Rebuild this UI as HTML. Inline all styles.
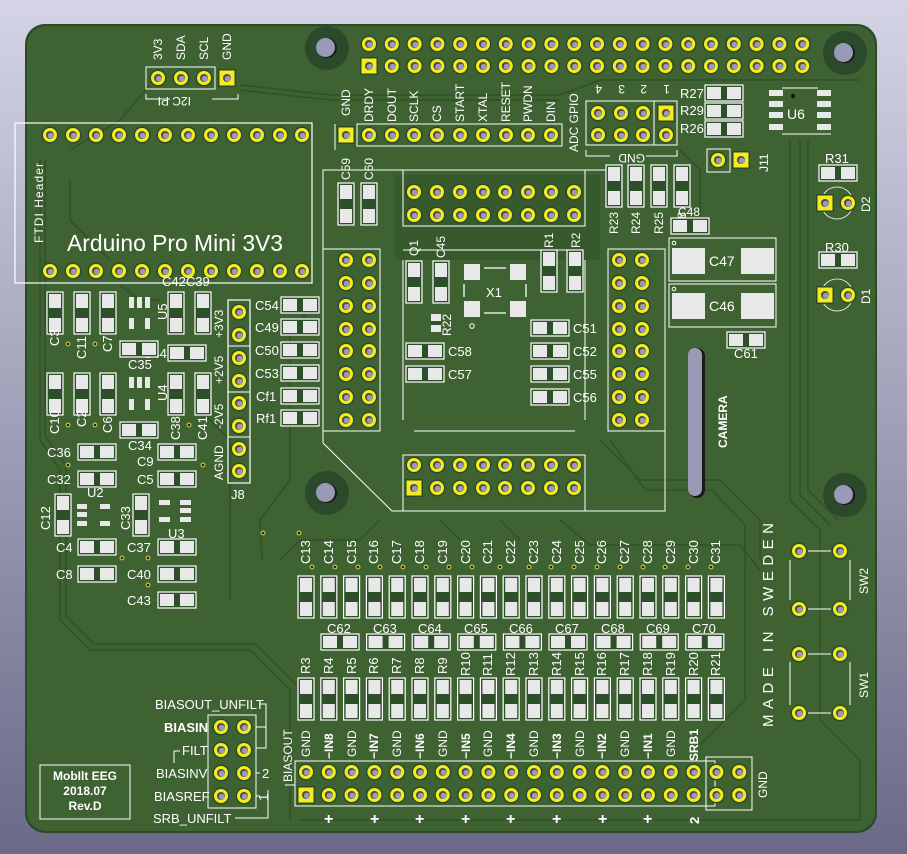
<!DOCTYPE html>
<html><head><meta charset="utf-8"><style>
html,body{margin:0;padding:0;width:907px;height:854px;overflow:hidden}
svg{display:block}
.t{fill:#fff;font-family:"Liberation Sans",sans-serif}
.b{font-weight:bold}
</style></head><body>
<svg width="907" height="854" viewBox="0 0 907 854" xmlns="http://www.w3.org/2000/svg" font-size="12">
<defs>
<linearGradient id="bg" x1="0" y1="0" x2="0" y2="1"><stop offset="0" stop-color="#d4d4e6"/><stop offset="1" stop-color="#6a6a88"/></linearGradient>
<g id="p"><circle r="8.5" fill="#2b4a2a"/><circle r="7" fill="#f4ec1c"/><circle r="4" fill="#4a4a55"/><circle r="3" cx="0.8" cy="0.8" fill="#9a9ab0"/></g>
<g id="s"><rect x="-9" y="-9" width="18" height="18" fill="#2b4a2a"/><rect x="-7.5" y="-7.5" width="15" height="15" fill="#f4ec1c"/><circle r="4" fill="#4a4a55"/><circle r="3" cx="0.8" cy="0.8" fill="#9a9ab0"/></g>
<g id="cv"><rect x="-8" y="-21" width="16" height="42" fill="#2d4f2a" stroke="#fff" stroke-width="1.2"/><rect x="-6" y="-19" width="12" height="14" fill="#e8e8e8"/><rect x="-6" y="5" width="12" height="14" fill="#e8e8e8"/></g>
<g id="ch"><rect x="-19" y="-8" width="38" height="16" fill="#2d4f2a" stroke="#fff" stroke-width="1.2"/><rect x="-17" y="-6" width="14" height="12" fill="#e8e8e8"/><rect x="3" y="-6" width="14" height="12" fill="#e8e8e8"/></g>
<g id="h"><circle r="22" fill="#2b4a2c"/><circle r="10" fill="#1a1a1a"/><circle r="9.5" cx="-1.5" cy="-0.5" fill="#9a9ab6"/></g>
<g id="v"><circle r="2.5" fill="#c8c040"/><circle r="1.3" fill="#222"/></g>
</defs>
<rect width="907" height="854" fill="url(#bg)"/>
<rect x="25" y="24" width="852" height="809" rx="20" fill="#2a4a28"/>
<rect x="27" y="26" width="848" height="805" rx="19" fill="#3f6232"/>
<!-- traces -->
<g fill="none" stroke="#2f5228" stroke-width="1.6">
<polyline points="40,160 40,440 60,470 60,620 90,650 250,650 290,690 290,820"/>
<polyline points="45,160 45,436 66,466 66,616 94,644 256,644 296,684"/>
<polyline points="150,85 120,120 70,150"/>
<polyline points="240,85 330,95 560,95 600,80 860,80"/>
<polyline points="240,90 330,100 560,100"/>
<polyline points="70,180 70,220 110,260"/>
<polyline points="320,300 290,330 290,480 260,520 262,560"/>
<polyline points="600,440 640,480 720,480 760,520 760,560"/>
<polyline points="610,440 645,490 712,490 745,525 745,700 700,745"/>
<polyline points="790,140 790,500 820,530 820,720 860,760 860,820 300,820"/>
<polyline points="800,140 800,495 830,525"/>
<polyline points="808,140 808,490 838,520"/>
<polyline points="380,520 360,540 300,540 280,560"/>
<polyline points="560,520 590,545 740,545 760,570"/>
<polyline points="440,520 460,540"/><polyline points="500,520 520,540"/>
<polyline points="120,285 140,300 160,300"/>
<polyline points="200,410 230,440 230,600"/>
<polyline points="680,150 700,170 700,230"/>
</g>
<path d="M395,175 L600,175 L600,260 L395,260 Z" fill="#2f5228" opacity="0.5"/>
<!-- mounting holes -->
<use href="#h" x="327" y="48"/><use href="#h" x="845" y="53"/><use href="#h" x="327" y="493"/><use href="#h" x="845" y="495"/>

<!-- top header -->
<g>
<use href="#p" x="369" y="44"/><use href="#p" x="391.8" y="44"/><use href="#p" x="414.6" y="44"/><use href="#p" x="437.4" y="44"/><use href="#p" x="460.2" y="44"/><use href="#p" x="483" y="44"/><use href="#p" x="505.8" y="44"/><use href="#p" x="528.6" y="44"/><use href="#p" x="551.4" y="44"/><use href="#p" x="574.2" y="44"/><use href="#p" x="597" y="44"/><use href="#p" x="619.8" y="44"/><use href="#p" x="642.6" y="44"/><use href="#p" x="665.4" y="44"/><use href="#p" x="688.2" y="44"/><use href="#p" x="711" y="44"/><use href="#p" x="733.8" y="44"/><use href="#p" x="756.6" y="44"/><use href="#p" x="779.4" y="44"/><use href="#p" x="802.2" y="44"/>
<use href="#s" x="369" y="66"/><use href="#p" x="391.8" y="66"/><use href="#p" x="414.6" y="66"/><use href="#p" x="437.4" y="66"/><use href="#p" x="460.2" y="66"/><use href="#p" x="483" y="66"/><use href="#p" x="505.8" y="66"/><use href="#p" x="528.6" y="66"/><use href="#p" x="551.4" y="66"/><use href="#p" x="574.2" y="66"/><use href="#p" x="597" y="66"/><use href="#p" x="619.8" y="66"/><use href="#p" x="642.6" y="66"/><use href="#p" x="665.4" y="66"/><use href="#p" x="688.2" y="66"/><use href="#p" x="711" y="66"/><use href="#p" x="733.8" y="66"/><use href="#p" x="756.6" y="66"/><use href="#p" x="779.4" y="66"/><use href="#p" x="802.2" y="66"/>
</g>

<!-- I2C -->
<rect x="146" y="67" width="69" height="22" fill="none" stroke="#fff"/>
<use href="#p" x="158" y="78"/><use href="#p" x="181" y="78"/><use href="#p" x="204" y="78"/><use href="#s" x="227" y="78"/>
<text class="t" transform="translate(162,60) rotate(-90)">3V3</text>
<text class="t" transform="translate(185,60) rotate(-90)">SDA</text>
<text class="t" transform="translate(208,60) rotate(-90)">SCL</text>
<text class="t" transform="translate(231,60) rotate(-90)">GND</text>
<polyline points="146,94 146,99 170,99" fill="none" stroke="#fff"/><polyline points="212,99 238,99 238,94" fill="none" stroke="#fff"/>
<text class="t" transform="translate(191,97) rotate(180)">I2C PI</text>

<!-- Arduino -->
<rect x="15" y="123" width="297" height="160" fill="none" stroke="#fff" stroke-width="1.2"/>
<use href="#p" x="50" y="135"/><use href="#p" x="73" y="135"/><use href="#p" x="96" y="135"/><use href="#p" x="119" y="135"/><use href="#p" x="142" y="135"/><use href="#p" x="165" y="135"/><use href="#p" x="188" y="135"/><use href="#p" x="211" y="135"/><use href="#p" x="234" y="135"/><use href="#p" x="257" y="135"/><use href="#p" x="280" y="135"/><use href="#p" x="302" y="135"/>
<use href="#p" x="50" y="271"/><use href="#p" x="73" y="271"/><use href="#p" x="96" y="271"/><use href="#p" x="119" y="271"/><use href="#p" x="142" y="271"/><use href="#p" x="165" y="271"/><use href="#p" x="188" y="271"/><use href="#p" x="211" y="271"/><use href="#p" x="234" y="271"/><use href="#p" x="257" y="271"/><use href="#p" x="280" y="271"/><use href="#p" x="302" y="271"/>
<text class="t" transform="translate(43,243) rotate(-90)" textLength="80">FTDI Header</text>
<text class="t" x="67" y="251" font-size="23" textLength="216" lengthAdjust="spacingAndGlyphs">Arduino Pro Mini 3V3</text>

<!-- ADC header -->
<rect x="357" y="124" width="205" height="22" fill="none" stroke="#fff"/>
<polyline points="335,150 335,124" fill="none" stroke="#fff"/>
<use href="#s" x="346" y="135"/><use href="#p" x="369" y="135"/><use href="#p" x="392" y="135"/><use href="#p" x="414" y="135"/><use href="#p" x="437" y="135"/><use href="#p" x="460" y="135"/><use href="#p" x="483" y="135"/><use href="#p" x="506" y="135"/><use href="#p" x="528" y="135"/><use href="#p" x="551" y="135"/>
<g font-size="12">
<text class="t" transform="translate(350,116) rotate(-90)">GND</text>
<text class="t" transform="translate(373,122) rotate(-90)">DRDY</text>
<text class="t" transform="translate(396,122) rotate(-90)">DOUT</text>
<text class="t" transform="translate(418,122) rotate(-90)">SCLK</text>
<text class="t" transform="translate(441,122) rotate(-90)">CS</text>
<text class="t" transform="translate(464,122) rotate(-90)">START</text>
<text class="t" transform="translate(487,122) rotate(-90)">XTAL</text>
<text class="t" transform="translate(510,122) rotate(-90)">RESET</text>
<text class="t" transform="translate(532,122) rotate(-90)">PWDN</text>
<text class="t" transform="translate(555,122) rotate(-90)">DIN</text>
<text class="t" transform="translate(578,152) rotate(-90)">ADC GPIO</text>
</g>
<rect x="586" y="101" width="68" height="44" fill="none" stroke="#fff"/><polyline points="654,101 677,101 677,145 654,145" fill="none" stroke="#fff"/>
<use href="#p" x="598" y="113"/><use href="#p" x="621" y="113"/><use href="#p" x="643" y="113"/><use href="#s" x="666" y="113"/>
<use href="#p" x="598" y="135"/><use href="#p" x="621" y="135"/><use href="#p" x="643" y="135"/><use href="#p" x="666" y="135"/>
<text class="t" transform="translate(602,85) rotate(180)">4</text><text class="t" transform="translate(625,85) rotate(180)">3</text><text class="t" transform="translate(647,85) rotate(180)">2</text><text class="t" transform="translate(670,85) rotate(180)">1</text>
<polyline points="586,150 586,156 610,156" fill="none" stroke="#fff"/><polyline points="646,156 677,156 677,150" fill="none" stroke="#fff"/>
<text class="t" transform="translate(645,154) rotate(180)">GND</text>

<!-- R27 R29 R26, U6 -->
<text class="t" x="680" y="98" font-size="13">R27</text><text class="t" x="680" y="115" font-size="13">R29</text><text class="t" x="680" y="133" font-size="13">R26</text>
<use href="#ch" x="724" y="93"/><use href="#ch" x="724" y="111"/><use href="#ch" x="724" y="129"/>
<g fill="#e8e8e8"><rect x="769" y="90" width="14" height="6"/><rect x="769" y="101" width="14" height="6"/><rect x="769" y="112" width="14" height="6"/><rect x="769" y="124" width="14" height="6"/><rect x="817" y="90" width="14" height="6"/><rect x="817" y="101" width="14" height="6"/><rect x="817" y="112" width="14" height="6"/><rect x="817" y="124" width="14" height="6"/></g>
<polyline points="782,88 818,88" stroke="#fff" fill="none"/><polyline points="782,134 831,134" stroke="#fff" fill="none"/>
<circle cx="793" cy="96" r="2" fill="#111"/>
<text class="t" x="787" y="119" font-size="14">U6</text>
<!-- J11 -->
<rect x="707" y="149" width="23" height="23" fill="none" stroke="#fff"/>
<use href="#p" x="718" y="160"/><use href="#s" x="741" y="160"/>
<text class="t" transform="translate(768,172) rotate(-90)">J11</text>
<!-- R31 D2 R30 D1 -->
<text class="t" x="825" y="163" font-size="13">R31</text><use href="#ch" x="838" y="173"/>
<circle cx="837" cy="203" r="16" fill="none" stroke="#fff" stroke-width="0.8"/>
<use href="#s" x="825" y="203"/><use href="#p" x="848" y="203"/>
<text class="t" transform="translate(870,212) rotate(-90)">D2</text>
<text class="t" x="825" y="252" font-size="13">R30</text><use href="#ch" x="838" y="260"/>
<circle cx="837" cy="295" r="16" fill="none" stroke="#fff" stroke-width="0.8"/>
<use href="#s" x="825" y="295"/><use href="#p" x="848" y="295"/>
<text class="t" transform="translate(870,304) rotate(-90)">D1</text>

<!-- center module outline -->
<polyline points="323,443 323,170 612,170" fill="none" stroke="#fff"/>
<polyline points="323,443 392,511 665,511 665,250" fill="none" stroke="#fff"/>
<polyline points="403,250 575,250" fill="none" stroke="#fff"/>
<polyline points="403,260 403,420" fill="none" stroke="#fff"/><polyline points="585,260 585,420" fill="none" stroke="#fff"/>
<polyline points="414,431 575,431" fill="none" stroke="#fff"/>
<rect x="403" y="170" width="182" height="56" fill="none" stroke="#fff"/>
<rect x="323" y="249" width="57" height="182" fill="none" stroke="#fff"/>
<rect x="608" y="249" width="57" height="182" fill="none" stroke="#fff"/>
<rect x="403" y="455" width="182" height="56" fill="none" stroke="#fff"/>
<g>
<use href="#p" x="414" y="192"/><use href="#p" x="437" y="192"/><use href="#p" x="460" y="192"/><use href="#p" x="483" y="192"/><use href="#p" x="505" y="192"/><use href="#p" x="528" y="192"/><use href="#p" x="551" y="192"/><use href="#p" x="574" y="192"/>
<use href="#p" x="414" y="215"/><use href="#p" x="437" y="215"/><use href="#p" x="460" y="215"/><use href="#p" x="483" y="215"/><use href="#p" x="505" y="215"/><use href="#p" x="528" y="215"/><use href="#p" x="551" y="215"/><use href="#p" x="574" y="215"/>
<use href="#p" x="414" y="465"/><use href="#p" x="437" y="465"/><use href="#p" x="460" y="465"/><use href="#p" x="483" y="465"/><use href="#p" x="505" y="465"/><use href="#p" x="528" y="465"/><use href="#p" x="551" y="465"/><use href="#p" x="574" y="465"/>
<use href="#s" x="414" y="488"/><use href="#p" x="437" y="488"/><use href="#p" x="460" y="488"/><use href="#p" x="483" y="488"/><use href="#p" x="505" y="488"/><use href="#p" x="528" y="488"/><use href="#p" x="551" y="488"/><use href="#p" x="574" y="488"/>
<use href="#p" x="346" y="260"/><use href="#p" x="369" y="260"/><use href="#p" x="346" y="283"/><use href="#p" x="369" y="283"/><use href="#p" x="346" y="306"/><use href="#p" x="369" y="306"/><use href="#p" x="346" y="329"/><use href="#p" x="369" y="329"/><use href="#p" x="346" y="351"/><use href="#p" x="369" y="351"/><use href="#p" x="346" y="374"/><use href="#p" x="369" y="374"/><use href="#p" x="346" y="397"/><use href="#p" x="369" y="397"/><use href="#p" x="346" y="420"/><use href="#p" x="369" y="420"/>
<use href="#p" x="619" y="260"/><use href="#p" x="642" y="260"/><use href="#p" x="619" y="283"/><use href="#p" x="642" y="283"/><use href="#p" x="619" y="306"/><use href="#p" x="642" y="306"/><use href="#p" x="619" y="329"/><use href="#p" x="642" y="329"/><use href="#p" x="619" y="351"/><use href="#p" x="642" y="351"/><use href="#p" x="619" y="374"/><use href="#p" x="642" y="374"/><use href="#p" x="619" y="397"/><use href="#p" x="642" y="397"/><use href="#p" x="619" y="420"/><use href="#p" x="642" y="420"/>
</g>
<use href="#cv" x="346" y="204"/><use href="#cv" x="369" y="204"/>
<text class="t" transform="translate(350,180) rotate(-90)">C59</text><text class="t" transform="translate(373,180) rotate(-90)">C60</text>
<use href="#cv" x="414" y="282"/><use href="#cv" x="441" y="282"/>
<text class="t" transform="translate(418,256) rotate(-90)">Q1</text><text class="t" transform="translate(445,258) rotate(-90)">C45</text>
<g fill="#e8e8e8"><rect x="464" y="264" width="16" height="16"/><rect x="510" y="264" width="16" height="16"/><rect x="464" y="301" width="16" height="16"/><rect x="510" y="301" width="16" height="16"/></g>
<g stroke="#fff" stroke-width="1.3"><line x1="484" y1="268" x2="506" y2="268"/><line x1="484" y1="313" x2="506" y2="313"/><line x1="464" y1="284" x2="464" y2="297"/><line x1="526" y1="284" x2="526" y2="297"/></g>
<circle cx="472" cy="326" r="2.3" fill="none" stroke="#fff"/>
<text class="t" x="486" y="297" font-size="13">X1</text>
<rect x="431" y="314" width="10" height="18" fill="#e8e8e8"/><rect x="431" y="321" width="10" height="4" fill="#2d4f2a"/>
<text class="t" transform="translate(451,336) rotate(-90)">R22</text>
<use href="#cv" x="549" y="271"/><use href="#cv" x="575" y="271"/>
<text class="t" transform="translate(553,248) rotate(-90)">R1</text><text class="t" transform="translate(580,248) rotate(-90)">R2</text>
<use href="#ch" x="425" y="351"/><use href="#ch" x="425" y="374"/>
<g font-size="13"><text class="t" x="448" y="356">C58</text><text class="t" x="448" y="379">C57</text>
<text class="t" x="573" y="333">C51</text><text class="t" x="573" y="356">C52</text><text class="t" x="573" y="379">C55</text><text class="t" x="573" y="402">C56</text></g>
<use href="#ch" x="550" y="328"/><use href="#ch" x="550" y="351"/><use href="#ch" x="550" y="374"/><use href="#ch" x="550" y="397"/>
<use href="#cv" x="614" y="186"/><use href="#cv" x="636" y="186"/><use href="#cv" x="659" y="186"/><use href="#cv" x="682" y="186"/>
<text class="t" transform="translate(618,234) rotate(-90)">R23</text><text class="t" transform="translate(640,234) rotate(-90)">R24</text><text class="t" transform="translate(663,234) rotate(-90)">R25</text><text class="t" transform="translate(686,234) rotate(-90)">R28</text>
<use href="#ch" x="690" y="226"/><text class="t" x="678" y="216">C48</text>
<rect x="669" y="238" width="107" height="43" fill="none" stroke="#fff"/>
<rect x="672" y="248" width="33" height="26" fill="#e8e8e8"/><rect x="741" y="248" width="33" height="26" fill="#e8e8e8"/>
<text class="t" x="709" y="266" font-size="14">C47</text>
<rect x="669" y="284" width="107" height="43" fill="none" stroke="#fff"/>
<rect x="672" y="293" width="33" height="26" fill="#e8e8e8"/><rect x="741" y="293" width="33" height="26" fill="#e8e8e8"/>
<text class="t" x="709" y="311" font-size="14">C46</text>
<circle cx="674" cy="243" r="1.8" fill="none" stroke="#fff"/><circle cx="674" cy="289" r="1.8" fill="none" stroke="#fff"/>
<use href="#ch" x="746" y="340"/><text class="t" x="734" y="358" font-size="13">C61</text>
<rect x="689" y="348" width="16" height="150" rx="8" fill="#1c1a18"/><rect x="688" y="348" width="14" height="148" rx="7" fill="#9a9ab4"/>
<text class="t b" transform="translate(727,448) rotate(-90)" font-size="12">CAMERA</text>

<!-- left power section -->
<g>
<use href="#cv" x="55" y="313"/><use href="#cv" x="82" y="313"/><use href="#cv" x="108" y="313"/><use href="#cv" x="176" y="313"/><use href="#cv" x="203" y="313"/>
<use href="#cv" x="55" y="394"/><use href="#cv" x="82" y="394"/><use href="#cv" x="108" y="394"/><use href="#cv" x="176" y="394"/><use href="#cv" x="203" y="394"/>
</g>
<g font-size="13">
<text class="t" transform="translate(59,346) rotate(-90)">C3</text><text class="t" transform="translate(86,359) rotate(-90)">C11</text><text class="t" transform="translate(112,352) rotate(-90)">C7</text>
<text class="t" transform="translate(59,434) rotate(-90)">C10</text><text class="t" transform="translate(86,427) rotate(-90)">C2</text><text class="t" transform="translate(112,433) rotate(-90)">C6</text>
<text class="t" transform="translate(180,440) rotate(-90)">C38</text><text class="t" transform="translate(207,440) rotate(-90)">C41</text>
<text class="t" x="162" y="286">C42C39</text>
</g>
<g fill="#e8e8e8"><rect x="129" y="297" width="5" height="11"/><rect x="137" y="297" width="5" height="11"/><rect x="145" y="297" width="5" height="11"/><rect x="129" y="318" width="5" height="11"/><rect x="145" y="318" width="5" height="11"/>
<rect x="129" y="377" width="5" height="11"/><rect x="137" y="377" width="5" height="11"/><rect x="145" y="377" width="5" height="11"/><rect x="129" y="399" width="5" height="11"/><rect x="145" y="399" width="5" height="11"/></g>
<g font-size="13">
<text class="t" transform="translate(167,320) rotate(-90)">U5</text><text class="t" transform="translate(167,401) rotate(-90)">U4</text>
<text class="t" x="128" y="369">C35</text><text class="t" x="143" y="358">C44</text>
<text class="t" x="128" y="450">C34</text>
<text class="t" x="47" y="457">C36</text><text class="t" x="47" y="484">C32</text>
<text class="t" x="137" y="466">C9</text><text class="t" x="137" y="484">C5</text>
<text class="t" x="87" y="497">U2</text>
<text class="t" transform="translate(50,530) rotate(-90)">C12</text>
<text class="t" transform="translate(130,530) rotate(-90)">C33</text>
<text class="t" x="168" y="538">U3</text>
<text class="t" x="56" y="552">C4</text><text class="t" x="56" y="579">C8</text>
<text class="t" x="127" y="552">C37</text><text class="t" x="127" y="579">C40</text><text class="t" x="127" y="605">C43</text>
</g>
<use href="#ch" x="139" y="349"/><use href="#ch" x="187" y="353"/><use href="#ch" x="139" y="430"/>
<use href="#ch" x="97" y="452"/><use href="#ch" x="97" y="479"/><use href="#ch" x="177" y="452"/><use href="#ch" x="177" y="479"/>
<g fill="#e8e8e8"><rect x="77" y="504" width="10" height="5"/><rect x="77" y="512" width="10" height="5"/><rect x="77" y="521" width="10" height="5"/><rect x="100" y="504" width="10" height="5"/><rect x="100" y="521" width="10" height="5"/>
<rect x="159" y="500" width="11" height="5"/><rect x="159" y="517" width="11" height="5"/><rect x="180" y="500" width="11" height="5"/><rect x="180" y="508" width="11" height="5"/><rect x="180" y="517" width="11" height="5"/></g>
<use href="#cv" x="63" y="515"/><use href="#cv" x="141" y="515"/>
<use href="#ch" x="97" y="547"/><use href="#ch" x="97" y="574"/><use href="#ch" x="177" y="547"/><use href="#ch" x="177" y="574"/><use href="#ch" x="177" y="600"/>
<g><use href="#v" x="68" y="344"/><use href="#v" x="95" y="344"/><use href="#v" x="68" y="425"/><use href="#v" x="95" y="425"/><use href="#v" x="189" y="425"/><use href="#v" x="68" y="465"/><use href="#v" x="203" y="465"/><use href="#v" x="122" y="558"/><use href="#v" x="148" y="558"/><use href="#v" x="148" y="585"/><use href="#v" x="263" y="533"/><use href="#v" x="299" y="533"/></g>
<!-- J8 -->
<rect x="228" y="300" width="22" height="183" fill="none" stroke="#fff" stroke-width="1.2"/>
<g stroke="#fff"><line x1="228" y1="346" x2="250" y2="346"/><line x1="228" y1="392" x2="250" y2="392"/><line x1="228" y1="437" x2="250" y2="437"/></g>
<use href="#p" x="239" y="312"/><use href="#p" x="239" y="335"/><use href="#p" x="239" y="358"/><use href="#p" x="239" y="381"/><use href="#p" x="239" y="403"/><use href="#p" x="239" y="426"/><use href="#p" x="239" y="449"/><use href="#p" x="239" y="471"/>
<g font-size="12"><text class="t" transform="translate(223,338) rotate(-90)">+3V3</text><text class="t" transform="translate(223,384) rotate(-90)">+2V5</text><text class="t" transform="translate(223,429) rotate(-90)">-2V5</text><text class="t" transform="translate(223,480) rotate(-90)">AGND</text></g>
<text class="t" x="231" y="499" font-size="13">J8</text>
<g font-size="13">
<text class="t" x="255" y="310">C54</text><text class="t" x="255" y="332">C49</text><text class="t" x="255" y="355">C50</text><text class="t" x="255" y="378">C53</text><text class="t" x="256" y="401">Cf1</text><text class="t" x="256" y="423">Rf1</text>
</g>
<use href="#ch" x="300" y="305"/><use href="#ch" x="300" y="327"/><use href="#ch" x="300" y="350"/><use href="#ch" x="300" y="373"/><use href="#ch" x="300" y="396"/><use href="#ch" x="300" y="418"/>

<!-- bottom caps C13..C31 -->
<g>
<use href="#cv" x="306" y="597"/><use href="#cv" x="328.8" y="597"/><use href="#cv" x="351.6" y="597"/><use href="#cv" x="374.4" y="597"/><use href="#cv" x="397.2" y="597"/><use href="#cv" x="420" y="597"/><use href="#cv" x="442.8" y="597"/><use href="#cv" x="465.6" y="597"/><use href="#cv" x="488.4" y="597"/><use href="#cv" x="511.2" y="597"/><use href="#cv" x="534" y="597"/><use href="#cv" x="556.8" y="597"/><use href="#cv" x="579.6" y="597"/><use href="#cv" x="602.4" y="597"/><use href="#cv" x="625.2" y="597"/><use href="#cv" x="648" y="597"/><use href="#cv" x="670.8" y="597"/><use href="#cv" x="693.6" y="597"/><use href="#cv" x="716.4" y="597"/>
<use href="#cv" x="306" y="699"/><use href="#cv" x="328.8" y="699"/><use href="#cv" x="351.6" y="699"/><use href="#cv" x="374.4" y="699"/><use href="#cv" x="397.2" y="699"/><use href="#cv" x="420" y="699"/><use href="#cv" x="442.8" y="699"/><use href="#cv" x="465.6" y="699"/><use href="#cv" x="488.4" y="699"/><use href="#cv" x="511.2" y="699"/><use href="#cv" x="534" y="699"/><use href="#cv" x="556.8" y="699"/><use href="#cv" x="579.6" y="699"/><use href="#cv" x="602.4" y="699"/><use href="#cv" x="625.2" y="699"/><use href="#cv" x="648" y="699"/><use href="#cv" x="670.8" y="699"/><use href="#cv" x="693.6" y="699"/><use href="#cv" x="716.4" y="699"/>
<use href="#v" x="312" y="567"/><use href="#v" x="335" y="567"/><use href="#v" x="358" y="567"/><use href="#v" x="380" y="567"/><use href="#v" x="403" y="567"/><use href="#v" x="426" y="567"/><use href="#v" x="449" y="567"/><use href="#v" x="472" y="567"/><use href="#v" x="500" y="567"/><use href="#v" x="529" y="567"/><use href="#v" x="551" y="567"/><use href="#v" x="574" y="567"/><use href="#v" x="597" y="567"/><use href="#v" x="620" y="567"/><use href="#v" x="643" y="567"/><use href="#v" x="665" y="567"/><use href="#v" x="688" y="567"/><use href="#v" x="711" y="567"/>
<use href="#ch" x="340" y="642"/><use href="#ch" x="385.6" y="642"/><use href="#ch" x="431.2" y="642"/><use href="#ch" x="476.8" y="642"/><use href="#ch" x="522.4" y="642"/><use href="#ch" x="568" y="642"/><use href="#ch" x="613.6" y="642"/><use href="#ch" x="659.2" y="642"/><use href="#ch" x="704.8" y="642"/>
</g>
<g font-size="13">
<text class="t" transform="translate(310,564) rotate(-90)">C13</text><text class="t" transform="translate(333,564) rotate(-90)">C14</text><text class="t" transform="translate(356,564) rotate(-90)">C15</text><text class="t" transform="translate(378,564) rotate(-90)">C16</text><text class="t" transform="translate(401,564) rotate(-90)">C17</text><text class="t" transform="translate(424,564) rotate(-90)">C18</text><text class="t" transform="translate(447,564) rotate(-90)">C19</text><text class="t" transform="translate(470,564) rotate(-90)">C20</text><text class="t" transform="translate(492,564) rotate(-90)">C21</text><text class="t" transform="translate(515,564) rotate(-90)">C22</text><text class="t" transform="translate(538,564) rotate(-90)">C23</text><text class="t" transform="translate(561,564) rotate(-90)">C24</text><text class="t" transform="translate(584,564) rotate(-90)">C25</text><text class="t" transform="translate(606,564) rotate(-90)">C26</text><text class="t" transform="translate(629,564) rotate(-90)">C27</text><text class="t" transform="translate(652,564) rotate(-90)">C28</text><text class="t" transform="translate(675,564) rotate(-90)">C29</text><text class="t" transform="translate(698,564) rotate(-90)">C30</text><text class="t" transform="translate(720,564) rotate(-90)">C31</text>
<text class="t" x="327" y="633">C62</text><text class="t" x="373" y="633">C63</text><text class="t" x="418" y="633">C64</text><text class="t" x="464" y="633">C65</text><text class="t" x="509" y="633">C66</text><text class="t" x="555" y="633">C67</text><text class="t" x="601" y="633">C68</text><text class="t" x="646" y="633">C69</text><text class="t" x="692" y="633">C70</text>
<text class="t" transform="translate(310,674) rotate(-90)">R3</text><text class="t" transform="translate(333,674) rotate(-90)">R4</text><text class="t" transform="translate(356,674) rotate(-90)">R5</text><text class="t" transform="translate(378,674) rotate(-90)">R6</text><text class="t" transform="translate(401,674) rotate(-90)">R7</text><text class="t" transform="translate(424,674) rotate(-90)">R8</text><text class="t" transform="translate(447,674) rotate(-90)">R9</text><text class="t" transform="translate(470,676) rotate(-90)">R10</text><text class="t" transform="translate(492,676) rotate(-90)">R11</text><text class="t" transform="translate(515,676) rotate(-90)">R12</text><text class="t" transform="translate(538,676) rotate(-90)">R13</text><text class="t" transform="translate(561,676) rotate(-90)">R14</text><text class="t" transform="translate(584,676) rotate(-90)">R15</text><text class="t" transform="translate(606,676) rotate(-90)">R16</text><text class="t" transform="translate(629,676) rotate(-90)">R17</text><text class="t" transform="translate(652,676) rotate(-90)">R18</text><text class="t" transform="translate(675,676) rotate(-90)">R19</text><text class="t" transform="translate(698,676) rotate(-90)">R20</text><text class="t" transform="translate(720,676) rotate(-90)">R21</text>
</g>
<g font-size="12">
<text class="t" transform="translate(310,757) rotate(-90)">GND</text><text class="t b" transform="translate(333,759) rotate(-90)">−IN8</text>
<text class="t" transform="translate(356,757) rotate(-90)">GND</text><text class="t b" transform="translate(378,759) rotate(-90)">−IN7</text>
<text class="t" transform="translate(401,757) rotate(-90)">GND</text><text class="t b" transform="translate(424,759) rotate(-90)">−IN6</text>
<text class="t" transform="translate(447,757) rotate(-90)">GND</text><text class="t b" transform="translate(470,759) rotate(-90)">−IN5</text>
<text class="t" transform="translate(492,757) rotate(-90)">GND</text><text class="t b" transform="translate(515,759) rotate(-90)">−IN4</text>
<text class="t" transform="translate(538,757) rotate(-90)">GND</text><text class="t b" transform="translate(561,759) rotate(-90)">−IN3</text>
<text class="t" transform="translate(584,757) rotate(-90)">GND</text><text class="t b" transform="translate(606,759) rotate(-90)">−IN2</text>
<text class="t" transform="translate(629,757) rotate(-90)">GND</text><text class="t b" transform="translate(652,759) rotate(-90)">−IN1</text>
<text class="t" transform="translate(675,757) rotate(-90)">GND</text><text class="t b" transform="translate(698,761) rotate(-90)">SRB1</text>
<text class="t" transform="translate(292,782) rotate(-90)">BIASOUT</text>
<text class="t" transform="translate(767,798) rotate(-90)">GND</text>
</g>
<!-- bottom header -->
<rect x="295" y="761" width="420" height="45" fill="none" stroke="#fff"/>
<polyline points="285,785 295,785 295,806" fill="none" stroke="#fff"/>
<rect x="706" y="757" width="46" height="53" fill="none" stroke="#fff"/>
<g>
<use href="#p" x="306" y="772"/><use href="#p" x="328.8" y="772"/><use href="#p" x="351.6" y="772"/><use href="#p" x="374.4" y="772"/><use href="#p" x="397.2" y="772"/><use href="#p" x="420" y="772"/><use href="#p" x="442.8" y="772"/><use href="#p" x="465.6" y="772"/><use href="#p" x="488.4" y="772"/><use href="#p" x="511.2" y="772"/><use href="#p" x="534" y="772"/><use href="#p" x="556.8" y="772"/><use href="#p" x="579.6" y="772"/><use href="#p" x="602.4" y="772"/><use href="#p" x="625.2" y="772"/><use href="#p" x="648" y="772"/><use href="#p" x="670.8" y="772"/><use href="#p" x="693.6" y="772"/><use href="#p" x="716.4" y="772"/><use href="#p" x="739.2" y="772"/>
<use href="#s" x="306" y="795"/><use href="#p" x="328.8" y="795"/><use href="#p" x="351.6" y="795"/><use href="#p" x="374.4" y="795"/><use href="#p" x="397.2" y="795"/><use href="#p" x="420" y="795"/><use href="#p" x="442.8" y="795"/><use href="#p" x="465.6" y="795"/><use href="#p" x="488.4" y="795"/><use href="#p" x="511.2" y="795"/><use href="#p" x="534" y="795"/><use href="#p" x="556.8" y="795"/><use href="#p" x="579.6" y="795"/><use href="#p" x="602.4" y="795"/><use href="#p" x="625.2" y="795"/><use href="#p" x="648" y="795"/><use href="#p" x="670.8" y="795"/><use href="#p" x="693.6" y="795"/><use href="#p" x="716.4" y="795"/><use href="#p" x="739.2" y="795"/>
</g>
<g font-size="16">
<text class="t b" x="324" y="824">+</text><text class="t b" x="370" y="824">+</text><text class="t b" x="415" y="824">+</text><text class="t b" x="461" y="824">+</text><text class="t b" x="506" y="824">+</text><text class="t b" x="552" y="824">+</text><text class="t b" x="598" y="824">+</text><text class="t b" x="643" y="824">+</text>
</g>
<text class="t b" transform="translate(699,824) rotate(-90)" font-size="13">2</text>

<!-- bias area -->
<rect x="208" y="715" width="48" height="93" fill="none" stroke="#fff"/>
<use href="#p" x="221" y="727"/><use href="#p" x="244" y="727"/><use href="#p" x="221" y="750"/><use href="#p" x="244" y="750"/><use href="#p" x="221" y="773"/><use href="#p" x="244" y="773"/><use href="#p" x="221" y="796"/><use href="#p" x="244" y="796"/>
<g font-size="13">
<text class="t" x="155" y="709">BIASOUT_UNFILT</text>
<text class="t b" x="164" y="732">BIASIN</text>
<text class="t" x="182" y="755">FILT</text>
<text class="t" x="156" y="778">BIASINV</text>
<text class="t" x="154" y="801">BIASREF</text>
<text class="t" x="153" y="823">SRB_UNFILT</text>
<text class="t" x="262" y="778">2</text>
<text class="t" transform="translate(268,801) rotate(-90)">1</text>
</g>
<g fill="none" stroke="#fff"><polyline points="260,704 266,704 266,748 256,748"/><polyline points="256,727 266,727"/><polyline points="174,751 174,763"/><polyline points="174,751 180,751"/><polyline points="256,773 260,773"/><polyline points="256,796 260,796"/><polyline points="235,818 268,818 268,790"/></g>
<rect x="40" y="765" width="90" height="54" fill="none" stroke="#fff"/>
<g font-size="12">
<text class="t b" x="85" y="780" text-anchor="middle">MobIlt EEG</text>
<text class="t b" x="85" y="795" text-anchor="middle">2018.07</text>
<text class="t b" x="85" y="810" text-anchor="middle">Rev.D</text>
</g>

<!-- switches -->
<g stroke="#fff" fill="none"><polyline points="790,560 790,600"/><polyline points="850,560 850,600"/><line x1="808" y1="551" x2="831" y2="551"/><line x1="808" y1="609" x2="831" y2="609"/><polyline points="790,662 790,705"/><polyline points="850,662 850,705"/><line x1="808" y1="654" x2="831" y2="654"/><line x1="808" y1="713" x2="831" y2="713"/></g>
<use href="#p" x="799" y="551"/><use href="#p" x="840" y="551"/><use href="#p" x="799" y="609"/><use href="#p" x="840" y="609"/>
<use href="#p" x="799" y="654"/><use href="#p" x="840" y="654"/><use href="#p" x="799" y="713"/><use href="#p" x="840" y="713"/>
<text class="t" transform="translate(868,594) rotate(-90)">SW2</text>
<text class="t" transform="translate(868,698) rotate(-90)">SW1</text>
<text class="t" transform="translate(773,727) rotate(-90)" font-size="15" letter-spacing="5.5">MADE IN SWEDEN</text>
</svg>
</body></html>
